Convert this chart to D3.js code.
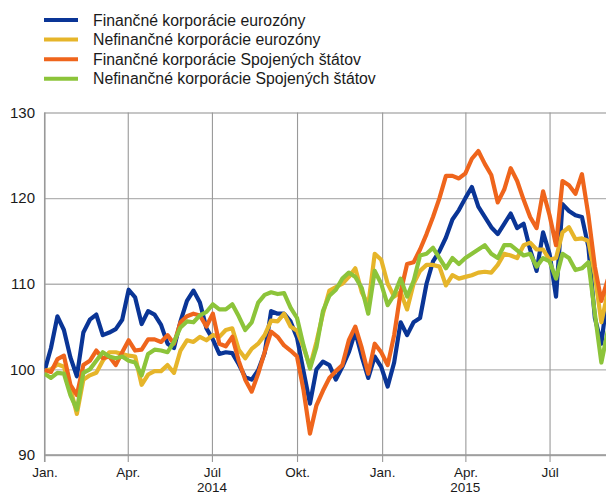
<!DOCTYPE html>
<html lang="sk">
<head>
    <meta charset="UTF-8">
    <title>Akciové indexy</title>
    <script src="https://d3js.org/d3.v7.min.js"></script>
    <style>
        body {
            margin: 0;
            background: #fff;
            font-family: "Liberation Sans", Arial, sans-serif;
        }
        svg text {
            fill: #1a1a1a;
        }
    </style>
</head>
<body>
<div id="container"></div>
<script>

    // series names (legend order = draw order)
    const seriesNames = [
        'Finančné korporácie eurozóny',
        'Nefinančné korporácie eurozóny',
        'Finančné korporácie Spojených štátov',
        'Nefinančné korporácie Spojených štátov'
    ];
    const seriesColors = ['#0a3596', '#e6b52a', '#ef651c', '#8cc43a'];

    // weekly observations, first one on 1 Jan 2014
    const firstDay = new Date(2014, 0, 1);

    const finEA = [
        99.8, 102.5, 106.2, 104.6, 101.4, 99.2, 104.3, 105.8, 106.4, 104.0,
        104.3, 104.7, 105.8, 109.3, 108.4, 105.3, 106.8, 106.4, 105.2, 103.0,
        102.5, 105.6, 108.0, 109.2, 107.8, 104.8, 103.5, 101.8, 102.0, 101.9,
        100.6, 99.1, 98.8, 99.9, 101.9, 106.8, 106.5, 106.5, 105.6, 103.7,
        99.8, 96.0, 100.0, 100.9, 100.5, 98.8, 100.3, 102.0, 104.4, 101.5,
        99.0, 101.5, 100.3, 98.0, 100.8, 105.5, 104.0, 105.5, 106.0, 110.0,
        112.6, 113.8, 115.4, 117.5, 118.6, 120.0, 121.3, 119.0, 117.8, 116.6,
        115.8, 117.0, 118.2, 116.5, 117.0, 114.0, 111.5, 116.0, 113.5, 108.5,
        119.3, 118.5, 118.0, 117.8, 114.3, 106.0, 103.0, 109.0
    ];
    const nonfinEA = [
        99.8, 100.0, 100.6, 100.3, 97.8, 94.8, 98.8, 99.3, 99.6, 101.0,
        102.0, 102.0, 101.8, 101.6, 101.5, 98.2, 99.4, 99.8, 99.8, 100.5,
        99.6, 102.2, 103.4, 103.2, 103.8, 103.4, 104.0, 103.8, 104.6, 104.8,
        102.3, 101.3, 102.4, 103.0, 104.0, 105.7, 105.6, 106.5, 105.0, 104.5,
        102.6, 100.3, 103.2, 106.5, 109.2, 109.6, 110.0, 110.8, 111.8, 109.0,
        107.5, 113.5, 112.8, 110.0, 108.5, 109.0, 107.0, 110.0, 111.5, 112.2,
        112.2, 112.0, 109.8, 111.0, 110.6, 110.8, 111.0, 111.3, 111.4, 111.3,
        112.2, 113.5, 113.3, 113.0, 114.5, 114.8, 114.0, 114.0, 112.8, 113.0,
        116.0, 116.6, 115.2, 115.3, 115.0, 111.0, 105.5, 109.0
    ];
    const finUS = [
        99.9, 99.7, 101.2, 101.6, 98.2, 97.0, 100.5, 101.0, 102.2, 101.3,
        101.5, 100.5, 102.0, 103.4, 102.2, 102.3, 103.5, 103.5, 103.2, 104.0,
        103.0, 105.5, 106.2, 106.5, 106.3, 105.0, 106.5, 103.0, 102.7, 103.8,
        101.0, 98.8, 97.4, 99.5, 102.0, 104.4, 103.8, 102.8, 102.2, 101.5,
        97.6, 92.5, 95.8, 97.5, 99.0, 99.8, 100.5, 103.4, 105.0, 102.5,
        99.5, 103.0, 102.0, 100.5, 104.0, 109.0, 112.3, 112.5, 114.0, 115.8,
        117.8, 120.0, 122.6, 122.6, 122.3, 122.9, 124.6, 125.5, 124.0, 122.7,
        119.5, 121.0, 123.5, 122.0, 119.8, 117.8, 116.5, 120.8, 118.0, 114.5,
        122.0, 121.5, 120.5, 122.8, 118.0, 112.0, 108.0, 110.5
    ];
    const nonfinUS = [
        99.5, 99.0, 99.6, 99.5, 97.0, 95.3, 99.6, 100.0, 101.0, 102.0,
        101.5, 101.3, 101.5, 101.0, 100.8, 99.3, 101.8, 102.3, 102.2, 102.0,
        103.2, 104.9, 105.6, 105.5, 106.3, 106.7, 107.6, 107.0, 107.0, 107.6,
        106.2, 104.6, 105.5, 107.8, 108.7, 109.0, 108.8, 108.9, 107.2, 106.0,
        102.8, 100.1, 102.6, 106.8, 108.6, 109.3, 110.6, 111.3, 110.8, 109.5,
        106.5, 111.5, 110.0, 107.5, 108.7, 110.6, 108.5, 110.3, 113.3, 113.5,
        114.2, 113.0, 111.8, 113.0, 112.3, 113.0, 113.5, 114.0, 114.5, 113.5,
        113.0, 114.5, 114.5, 113.9, 113.3, 113.5, 112.0, 113.0, 112.6, 110.6,
        113.5, 113.0, 111.6, 111.8, 112.5, 106.5, 100.8, 104.5
    ];

    // axis ticks
    const yTicks = [90, 100, 110, 120, 130];
    const monthTicks = ['2014-01-01', '2014-04-01', '2014-07-01', '2014-10-01',
                        '2015-01-01', '2015-04-01', '2015-07-01'];
    const monthLabels = ['Jan.', 'Apr.', 'Júl', 'Okt.', 'Jan.', 'Apr.', 'Júl'];
    const yearLabels = ['2014', '2015'];
    const yearAnchors = ['2014-07-01', '2015-04-01'];

    // layout
    const width = 606, height = 495;
    const plotLeft = 44.5, plotTop = 112.5, plotBottom = 455, plotRight = 606;

    const parse = d3.timeParse('%Y-%m-%d');

    const x = d3.scaleTime()
        .domain([new Date(2014, 0, 1), new Date(2015, 8, 1)])
        .range([plotLeft, 606.9]);

    const y = d3.scaleLinear()
        .domain([90, 130])
        .range([plotBottom, plotTop]);

    const allSeries = [finEA, nonfinEA, finUS, nonfinUS].map((vals, i) => ({
        name: seriesNames[i],
        color: seriesColors[i],
        values: vals.map((v, k) => ({ date: d3.timeDay.offset(firstDay, 7 * k), value: v }))
    }));

    const svg = d3.select('#container')
        .append('svg')
        .attr('width', width)
        .attr('height', height);

    // horizontal grid + y labels
    const yAxis = svg.append('g')
        .attr('transform', `translate(${plotLeft},0)`)
        .call(d3.axisLeft(y).tickValues(yTicks).tickSize(-(plotRight - plotLeft)).tickPadding(9.5).tickFormat(d3.format('d')));
    yAxis.select('.domain').remove();
    yAxis.selectAll('line').attr('stroke', '#b3b3b3').attr('stroke-width', 1.3);
    yAxis.selectAll('text')
        .style('font-family', '"Liberation Sans", Arial, sans-serif')
        .style('font-size', '15px');

    // vertical grid + month labels
    const xAxis = svg.append('g')
        .attr('transform', `translate(0,${plotBottom + 7})`)
        .call(d3.axisBottom(x)
            .tickValues(monthTicks.map(parse))
            .tickSize(-(plotBottom + 7 - plotTop))
            .tickFormat((d, i) => monthLabels[i]));
    xAxis.select('.domain').remove();
    xAxis.selectAll('line').attr('stroke', '#999').attr('stroke-width', 1.1);
    xAxis.selectAll('text')
        .attr('y', 14.8)
        .attr('dy', null)
        .style('font-family', '"Liberation Sans", Arial, sans-serif')
        .style('font-size', '13.5px');

    // year labels
    svg.selectAll('.year')
        .data(yearLabels)
        .enter()
        .append('text')
        .attr('class', 'year')
        .attr('x', (d, i) => x(parse(yearAnchors[i])))
        .attr('y', 492)
        .attr('text-anchor', 'middle')
        .style('font-size', '13.5px')
        .text(d => d);

    // axis lines
    svg.append('line')
        .attr('x1', plotLeft).attr('x2', plotLeft)
        .attr('y1', plotTop).attr('y2', plotBottom + 7)
        .attr('stroke', '#999').attr('stroke-width', 1.1);
    svg.append('line')
        .attr('x1', plotLeft).attr('x2', plotRight)
        .attr('y1', plotBottom).attr('y2', plotBottom)
        .attr('stroke', '#999').attr('stroke-width', 1.3);

    // clip the lines to the plot
    svg.append('clipPath')
        .attr('id', 'plot-clip')
        .append('rect')
        .attr('x', plotLeft).attr('y', plotTop - 10)
        .attr('width', plotRight - plotLeft).attr('height', plotBottom - plotTop + 10);

    const line = d3.line()
        .x(d => x(d.date))
        .y(d => y(d.value));

    svg.append('g')
        .attr('clip-path', 'url(#plot-clip)')
        .selectAll('path')
        .data(allSeries)
        .enter()
        .append('path')
        .attr('d', d => line(d.values))
        .attr('fill', 'none')
        .attr('stroke', d => d.color)
        .attr('stroke-width', 4.2)
        .attr('stroke-linejoin', 'round');

    // legend
    const legend = svg.selectAll('.legend')
        .data(allSeries)
        .enter()
        .append('g')
        .attr('class', 'legend')
        .attr('transform', (d, i) => `translate(0,${20 + i * 19.6})`);

    legend.append('line')
        .attr('x1', 44).attr('x2', 78)
        .attr('stroke', d => d.color)
        .attr('stroke-width', 4);

    legend.append('text')
        .attr('x', 93)
        .attr('dy', '0.35em')
        .style('font-size', '15.8px')
        .text(d => d.name);

</script>
</body>
</html>
